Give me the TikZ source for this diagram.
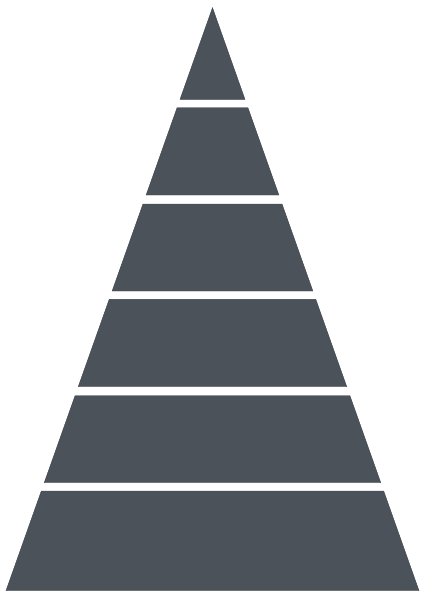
\documentclass[tikz,border=0pt]{standalone}
\definecolor{bandfill}{HTML}{4B525A}
\definecolor{bandedge}{HTML}{3E444B}
\tikzset{band/.style={fill=bandfill,draw=bandedge,line width=0.4pt,line join=miter}}
\begin{document}
\begin{tikzpicture}[x=1pt,y=-1pt]
\useasboundingbox (0,0) rectangle (425,600);
\foreach \t/\b in {7.7/99.3,107.7/195,204/291,299.3/386.7,395.7/482.7,491/590.7}{
  \pgfmathsetmacro\wt{0.3542*(\t-7.7)}
  \pgfmathsetmacro\wb{0.3542*(\b-7.7)}
  \path[band] (212.5-\wt,\t) -- (212.5+\wt,\t) -- (212.5+\wb,\b) -- (212.5-\wb,\b) -- cycle;
}
\end{tikzpicture}
\end{document}
